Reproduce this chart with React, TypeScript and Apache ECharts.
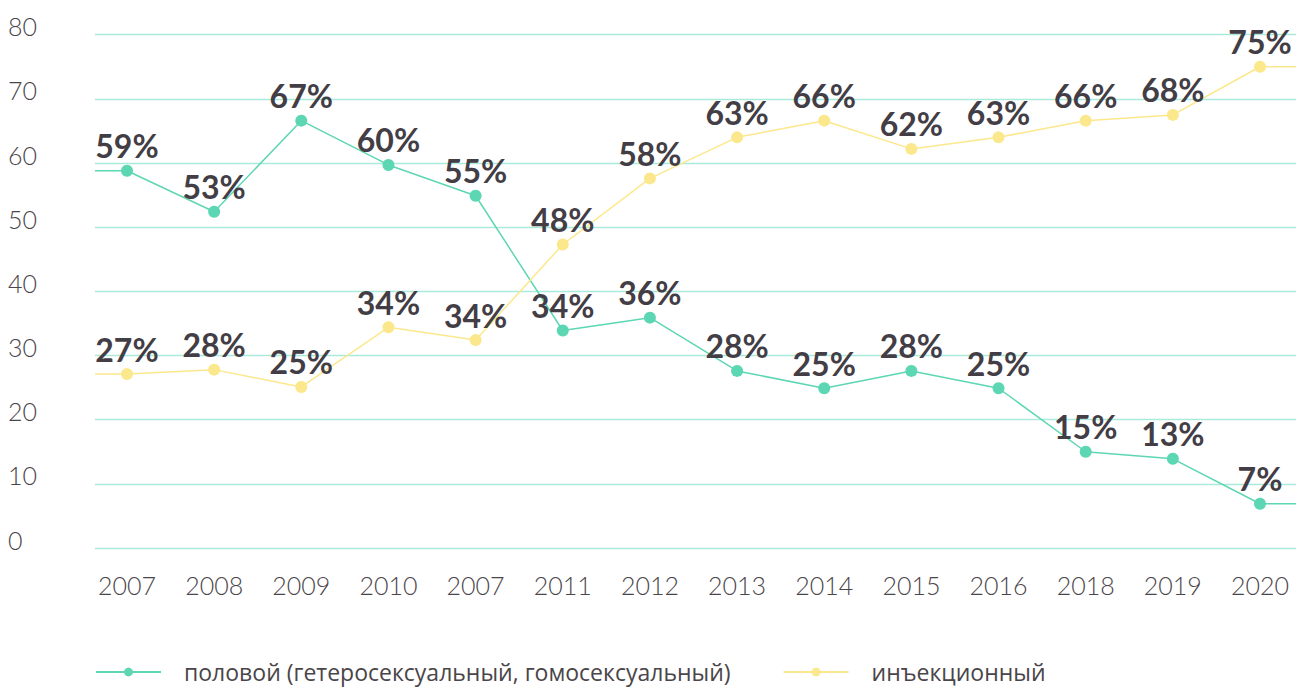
import React, { useEffect, useRef } from "react";
import * as echarts from "echarts";

const categories = ["2007", "2008", "2009", "2010", "2007", "2011", "2012", "2013", "2014", "2015", "2016", "2018", "2019", "2020"];
const sexualValues = [58.8, 52.4, 66.6, 59.7, 54.9, 33.9, 35.9, 27.6, 24.9, 27.6, 24.9, 15.0, 13.9, 6.9];
const sexualLabels = [59, 53, 67, 60, 55, 34, 36, 28, 25, 28, 25, 15, 13, 7];
const injectionValues = [27.1, 27.8, 25.1, 34.4, 32.4, 47.3, 57.6, 64.0, 66.6, 62.2, 64.0, 66.6, 67.5, 75.0];
const injectionLabels = [27, 28, 25, 34, 34, 48, 58, 63, 66, 62, 63, 66, 68, 75];
const seriesNames = ["половой (гетеросексуальный, гомосексуальный)", "инъекционный"];
const yMin = 0;
const yMax = 80;
const yStep = 10;

const GREEN = "#5dd6b4";
const YELLOW = "#fce88c";
const TEXT = "#433d45";
const AXIS_TEXT = "#4a4549";
const GRID = "#abeadb";

const X_MIN = -0.367;
const X_MAX = 13.413;

function buildData(values: number[], labels: number[]) {
  const pts: any[] = [];
  pts.push({ value: [X_MIN, values[0]], symbolSize: 0, label: { show: false } });
  values.forEach((v, i) => {
    pts.push({ value: [i, v], pct: labels[i] });
  });
  pts.push({ value: [X_MAX, values[values.length - 1]], symbolSize: 0, label: { show: false } });
  return pts;
}

export default function App() {
  const ref = useRef<HTMLDivElement>(null);
  useEffect(() => {
    if (!ref.current) return;
    const chart = echarts.init(ref.current, undefined, { renderer: "svg" });
    const labelStyle = {
      show: true,
      position: "top" as const,
      distance: 3,
      fontFamily: "Lato",
      fontWeight: 700 as any,
      fontSize: 32,
      color: TEXT,
      formatter: (p: any) => (p.data && p.data.pct !== undefined ? p.data.pct + "%" : ""),
    };
    const makeSeries = (name: string, values: number[], labels: number[], color: string) => ({
      type: "line",
      name,
      data: buildData(values, labels),
      symbol: "circle",
      symbolSize: 12,
      showAllSymbol: true,
      lineStyle: { color, width: 1.5 },
      itemStyle: { color },
      label: labelStyle,
      emphasis: { disabled: true },
      z: 3,
    });
    chart.setOption({
      animation: false,
      backgroundColor: "#ffffff",
      grid: { left: 95, right: 10, top: 34.7, bottom: 141, containLabel: false },
      legend: {
        left: 95,
        top: 660,
        padding: 0,
        itemWidth: 65,
        itemHeight: 11,
        itemGap: 52,
        textStyle: {
          fontFamily: "Open Sans",
          fontSize: 23,
          lineHeight: 24,
          color: AXIS_TEXT,
          padding: [0, 0, 0, 18],
        },
        data: seriesNames,
      },
      xAxis: {
        type: "value",
        min: X_MIN,
        max: X_MAX,
        minInterval: 1,
        maxInterval: 1,
        axisLine: { show: false },
        axisTick: { show: false },
        splitLine: { show: false },
        axisLabel: {
          showMinLabel: false,
          showMaxLabel: false,
          margin: 24,
          fontFamily: "Lato",
          fontWeight: 300 as any,
          fontSize: 25,
          color: AXIS_TEXT,
          formatter: (v: number) => {
            const idx = Math.round(v);
            return Math.abs(v - idx) < 1e-6 && categories[idx] !== undefined ? categories[idx] : "";
          },
        },
      },
      yAxis: {
        type: "value",
        min: yMin,
        max: yMax,
        interval: yStep,
        axisLine: { show: false },
        axisTick: { show: false },
        splitLine: { show: true, lineStyle: { color: GRID, width: 1.3 } },
        axisLabel: {
          align: "left",
          verticalAlign: "bottom",
          margin: 87,
          padding: [0, 0, -4, 0],
          fontFamily: "Lato",
          fontWeight: 300 as any,
          fontSize: 25,
          color: AXIS_TEXT,
        },
      },
      series: [
        makeSeries(seriesNames[0], sexualValues, sexualLabels, GREEN),
        makeSeries(seriesNames[1], injectionValues, injectionLabels, YELLOW),
      ],
    });
    return () => chart.dispose();
  }, []);
  return <div ref={ref} style={{ width: 1306, height: 689, position: "absolute", left: 0, top: 0 }} />;
}
